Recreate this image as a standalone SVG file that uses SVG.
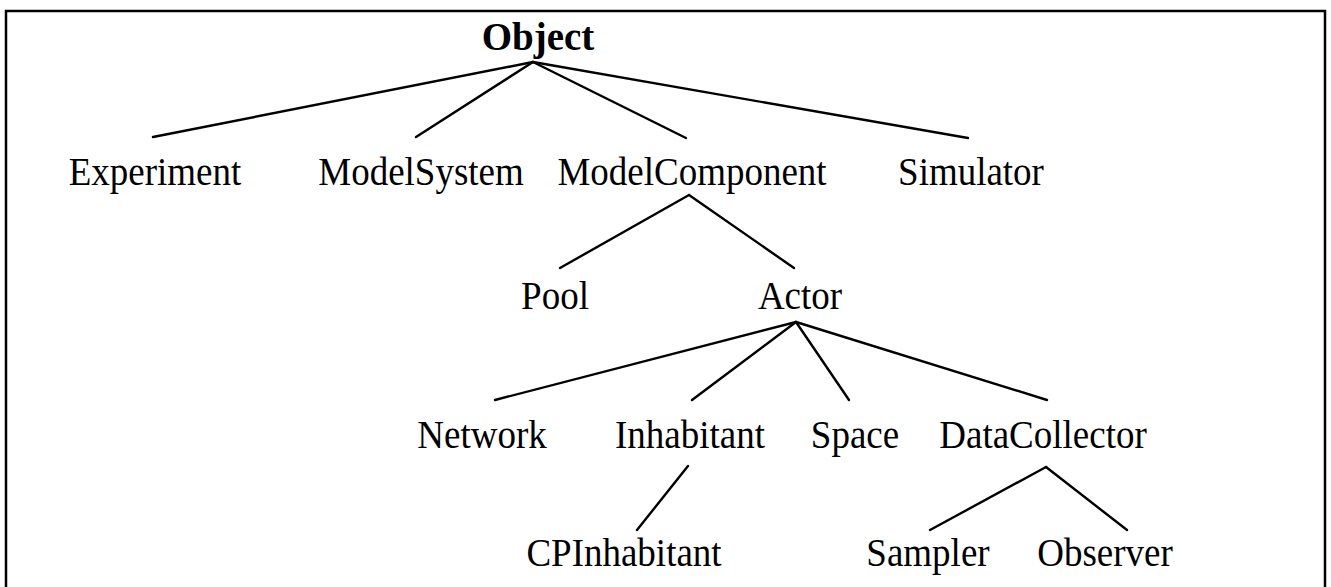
<svg xmlns="http://www.w3.org/2000/svg" width="1331" height="587" viewBox="0 0 1331 587">
<style>
text{font-family:"Liberation Serif","Times New Roman",serif;font-size:37px;fill:#000;text-anchor:middle}
.b{font-weight:bold;font-size:39px}
.e line{stroke:#000;stroke-width:2.4;stroke-linecap:round}
</style>
<rect width="1331" height="587" fill="#fff"/>
<path d="M6,600 V11 H1325 V600" fill="none" stroke="#000" stroke-width="2.5"/>
<g class="e" id="connectors">
<line x1="533" y1="62" x2="153" y2="137"/>
<line x1="533" y1="62" x2="416" y2="137"/>
<line x1="533" y1="62" x2="686" y2="138"/>
<line x1="533" y1="62" x2="968" y2="138"/>
<line x1="689" y1="195" x2="560" y2="268"/>
<line x1="689" y1="195" x2="794" y2="268"/>
<line x1="796" y1="322" x2="495" y2="400"/>
<line x1="796" y1="322" x2="692" y2="400"/>
<line x1="796" y1="322" x2="849" y2="400"/>
<line x1="796" y1="322" x2="1047" y2="400"/>
<line x1="688" y1="466" x2="637" y2="530"/>
<line x1="1046" y1="467" x2="930" y2="530"/>
<line x1="1046" y1="467" x2="1127" y2="530"/>
</g>
<g id="n-object"><text class="b" x="538" y="50">Object</text></g>
<g id="n-experiment"><text transform="translate(155,185) scale(1,1.1)">Experiment</text></g>
<g id="n-modelsystem"><text transform="translate(421,185) scale(1,1.1)">ModelSystem</text></g>
<g id="n-modelcomponent"><text transform="translate(692,185) scale(1,1.1)">ModelComponent</text></g>
<g id="n-simulator"><text transform="translate(971,185) scale(1,1.1)">Simulator</text></g>
<g id="n-pool"><text transform="translate(555,309) scale(1,1.1)">Pool</text></g>
<g id="n-actor"><text transform="translate(800,309) scale(1,1.1)">Actor</text></g>
<g id="n-network"><text transform="translate(482,448) scale(1,1.1)">Network</text></g>
<g id="n-inhabitant"><text transform="translate(690,448) scale(1,1.1)">Inhabitant</text></g>
<g id="n-space"><text transform="translate(855,448) scale(1,1.1)">Space</text></g>
<g id="n-datacollector"><text transform="translate(1043,448) scale(1,1.1)">DataCollector</text></g>
<g id="n-cpinhabitant"><text transform="translate(624,566) scale(1,1.1)">CPInhabitant</text></g>
<g id="n-sampler"><text transform="translate(928,566) scale(1,1.1)">Sampler</text></g>
<g id="n-observer"><text transform="translate(1105,566) scale(1,1.1)">Observer</text></g>
</svg>
